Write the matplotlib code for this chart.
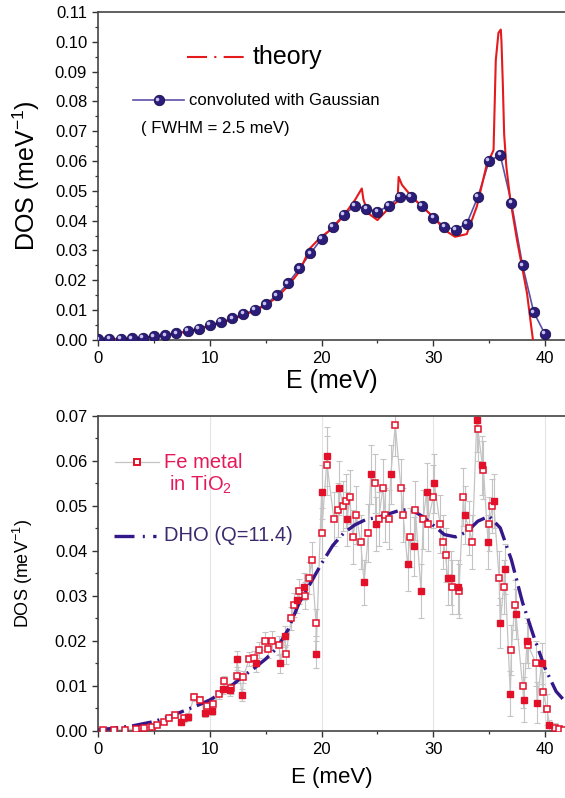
import numpy as np
import matplotlib
matplotlib.use("Agg")
import matplotlib.pyplot as plt
from matplotlib.ticker import MultipleLocator, FormatStrFormatter
from matplotlib.transforms import offset_copy

plt.rcParams['font.family'] = ['Liberation Sans', 'DejaVu Sans']
plt.rcParams['mathtext.default'] = 'regular'

# --- upper panel: calculated DOS ---
e_theory = [0, 2, 4, 6, 8, 10, 12, 14, 15, 16, 17, 18, 18.95, 19.9, 20.9, 21.9,
            23.0, 23.6, 23.75, 24.2, 25.0, 26.0, 26.8, 26.9, 27.2, 27.95, 28.85,
            30.0, 31.0, 31.95, 33.0, 33.9, 34.8, 35.2, 35.4, 35.6, 35.84, 36.05,
            36.11, 36.23, 36.35, 36.55, 36.9, 37.5, 37.95, 38.4, 38.7, 38.93, 39.1]
dos_theory = [0.0, 0.0002, 0.0008, 0.0016, 0.0028, 0.0047, 0.0069, 0.0098, 0.0117,
              0.0143, 0.0181, 0.0229, 0.0307, 0.0344, 0.0372, 0.0413, 0.0470,
              0.0508, 0.0470, 0.0424, 0.0402, 0.0441, 0.0465, 0.0547, 0.0520,
              0.0486, 0.0452, 0.0413, 0.0369, 0.0346, 0.0355, 0.0447, 0.0590,
              0.0620, 0.0637, 0.0938, 0.1030, 0.1041, 0.1000, 0.0860, 0.0690,
              0.0580, 0.0470, 0.0335, 0.0246, 0.0156, 0.0067, 0.0, -0.003]

e_conv = list(range(0, 41))
dos_conv = [0.0002, 0.0003, 0.0004, 0.0005, 0.0008, 0.0012, 0.0016, 0.0022, 0.0030,
            0.0038, 0.0050, 0.0060, 0.0072, 0.0087, 0.0100, 0.0120, 0.0150, 0.0190,
            0.0240, 0.0290, 0.0340, 0.0380, 0.0420, 0.0450, 0.0440, 0.0430, 0.0450,
            0.0480, 0.0480, 0.0450, 0.0410, 0.0380, 0.0370, 0.0390, 0.0480, 0.0600,
            0.0620, 0.0460, 0.0250, 0.0093, 0.0020]

# --- lower panel: measured DOS, Fe in TiO2 ---
e_open = [0.4, 1.4, 2.4, 3.4, 4.1, 4.8, 5.3, 5.9, 6.3, 6.9, 7.7, 8.6, 9.1, 9.7, 10.3,
          10.8, 11.3, 11.9, 12.4, 13.0, 13.5, 13.9, 14.4, 14.9, 15.2, 15.6, 16.2,
          16.8, 17.3, 17.5, 18.0, 18.5, 18.9, 19.1, 19.5, 20.0, 20.5, 21.1, 21.5,
          21.9, 22.2, 22.5, 22.8, 23.1, 23.5, 24.2, 24.8, 25.1, 25.5, 25.7, 26.0,
          26.6, 27.1, 27.3, 27.9, 28.4, 29.1, 29.5, 30.0, 30.6, 30.9, 31.1, 31.7,
          32.3, 32.7, 33.2, 33.5, 34.0, 34.5, 35.0, 35.3, 35.9, 36.3, 37.0, 37.3,
          38.0, 38.5, 39.2, 39.8, 40.2, 40.9, 41.3, 41.7]
dos_open = [0.0002, 0.0002, 0.0003, 0.0004, 0.0006, 0.0009, 0.0013, 0.0020, 0.0029,
            0.0036, 0.0028, 0.0076, 0.0068, 0.0055, 0.0060, 0.0081, 0.0110, 0.0095,
            0.0121, 0.0120, 0.0160, 0.0162, 0.0180, 0.0200, 0.0181, 0.0200, 0.0190,
            0.0170, 0.0250, 0.0280, 0.0310, 0.0300, 0.0340, 0.0380, 0.0240, 0.0440,
            0.0590, 0.0470, 0.0490, 0.0500, 0.0510, 0.0520, 0.0430, 0.0480, 0.0420,
            0.0440, 0.0550, 0.0470, 0.0540, 0.0480, 0.0470, 0.0680, 0.0540, 0.0480,
            0.0430, 0.0490, 0.0470, 0.0460, 0.0520, 0.0460, 0.0420, 0.0390, 0.0320,
            0.0310, 0.0520, 0.0450, 0.0420, 0.0670, 0.0580, 0.0460, 0.0500, 0.0340,
            0.0320, 0.0180, 0.0280, 0.0100, 0.0190, 0.0150, 0.0087, 0.0048, 0.0007,
            0.0004, 0.0002]
err_open = [0.0002, 0.0002, 0.0003, 0.0003, 0.0004, 0.0004, 0.0005, 0.0005, 0.0006,
            0.0006, 0.0007, 0.0009, 0.0009, 0.0010, 0.0010, 0.0011, 0.0012, 0.0012,
            0.0014, 0.0014, 0.0016, 0.0016, 0.0018, 0.0020, 0.0020, 0.0021, 0.0022,
            0.0022, 0.0025, 0.0026, 0.0028, 0.0030, 0.0035, 0.0040, 0.0030, 0.0055,
            0.0065, 0.0060, 0.0060, 0.0055, 0.0060, 0.0060, 0.0060, 0.0065, 0.0060,
            0.0065, 0.0065, 0.0060, 0.0065, 0.0060, 0.0065, 0.0070, 0.0065, 0.0060,
            0.0065, 0.0065, 0.0065, 0.0060, 0.0070, 0.0065, 0.0060, 0.0060, 0.0060,
            0.0060, 0.0065, 0.0060, 0.0060, 0.0070, 0.0065, 0.0060, 0.0060, 0.0060,
            0.0060, 0.0055, 0.0055, 0.0050, 0.0050, 0.0050, 0.0045, 0.0035, 0.0010,
            0.0008, 0.0005]

e_fill = [7.4, 8.0, 9.6, 10.2, 11.2, 11.8, 12.4, 12.9, 14.1, 16.3, 16.7, 17.8, 18.4,
          19.5, 20.0, 20.5, 21.6, 22.3, 23.8, 24.4, 24.9, 26.2, 27.7, 28.3, 28.9,
          29.4, 30.1, 31.3, 31.6, 32.2, 32.8, 33.9, 34.4, 34.9, 35.4, 36.0, 36.4,
          36.9, 37.4, 38.1, 38.4, 39.3, 39.7, 40.4]
dos_fill = [0.0020, 0.0031, 0.0041, 0.0045, 0.0093, 0.0090, 0.0160, 0.0080, 0.0150,
            0.0150, 0.0210, 0.0290, 0.0320, 0.0170, 0.0530, 0.0610, 0.0540, 0.0470,
            0.0330, 0.0570, 0.0460, 0.0570, 0.0370, 0.0410, 0.0310, 0.0530, 0.0550,
            0.0340, 0.0340, 0.0320, 0.0480, 0.0690, 0.0590, 0.0420, 0.0510, 0.0240,
            0.0360, 0.0083, 0.0260, 0.0069, 0.0200, 0.0063, 0.0150, 0.0013]
err_fill = [0.0007, 0.0008, 0.0010, 0.0010, 0.0012, 0.0012, 0.0018, 0.0014, 0.0018,
            0.0022, 0.0024, 0.0027, 0.0030, 0.0030, 0.0060, 0.0065, 0.0060, 0.0060,
            0.0050, 0.0065, 0.0060, 0.0065, 0.0060, 0.0065, 0.0060, 0.0065, 0.0065,
            0.0060, 0.0060, 0.0060, 0.0065, 0.0070, 0.0065, 0.0060, 0.0060, 0.0055,
            0.0055, 0.0050, 0.0055, 0.0050, 0.0050, 0.0045, 0.0045, 0.0012]

e_dho = list(range(0, 43))
dos_dho = [0.0003, 0.0005, 0.0008, 0.0011, 0.0016, 0.0021, 0.0029, 0.0038, 0.0048,
           0.0058, 0.0069, 0.0084, 0.0102, 0.0122, 0.0140, 0.0160, 0.0184, 0.0225,
           0.0285, 0.0328, 0.0372, 0.0412, 0.0440, 0.0458, 0.0470, 0.0474, 0.0482,
           0.0490, 0.0492, 0.0477, 0.0457, 0.0436, 0.0431, 0.0442, 0.0466, 0.0477,
           0.0451, 0.0380, 0.0285, 0.0210, 0.0140, 0.0088, 0.0060]

RED = '#e41a1c'
BALL = '#2a1c78'
CONV = '#5b50a8'
SQ = '#e3102a'
GREY = '#c4c4c4'
DHO = '#34178a'
XMAX = 41.8


def style_axes(ax, ymax, ystep):
    ax.set_xlim(0, XMAX)
    ax.set_ylim(0, ymax)
    ax.xaxis.set_major_locator(MultipleLocator(10))
    ax.xaxis.set_minor_locator(MultipleLocator(5))
    ax.yaxis.set_major_locator(MultipleLocator(ystep))
    ax.yaxis.set_minor_locator(MultipleLocator(ystep / 2))
    ax.yaxis.set_major_formatter(FormatStrFormatter('%.2f'))
    ax.tick_params(which='major', direction='out', length=4.5, width=1.0,
                   labelsize=12, color='#333333')
    ax.tick_params(which='minor', direction='out', length=2.5, width=0.9,
                   color='#333333')
    ax.spines['right'].set_visible(False)
    for s in ('left', 'bottom', 'top'):
        ax.spines[s].set_color('#444444')
        ax.spines[s].set_linewidth(1.2)


def ball(ax, x, y, transform=None, **kw):
    # dark sphere with a small light spot up-left
    tr = transform if transform is not None else ax.transData
    ax.plot(x, y, 'o', ms=7.5, mfc=BALL, mec='#1a1050', mew=0.6,
            transform=tr, zorder=5, **kw)
    hl = offset_copy(tr, fig=ax.figure, x=-1.2, y=1.2, units='points')
    ax.plot(x, y, 'o', ms=2.6, mfc='#c8c2ee', mec='none', transform=hl,
            zorder=6, **kw)


fig = plt.figure(figsize=(5.65, 7.98), dpi=100)

# upper panel
ax1 = fig.add_axes([0.174, 0.574, 0.826, 0.411])
style_axes(ax1, 0.11, 0.01)
ax1.plot(e_conv, dos_conv, '-', color=CONV, lw=1.2, zorder=3)
ax1.plot(e_theory, dos_theory, '-', color=RED, lw=1.5, zorder=4)
ball(ax1, e_conv, dos_conv)
ax1.set_xlabel('E (meV)', fontsize=18, labelpad=2)
ax1.set_ylabel('DOS (meV$^{-1}$)', fontsize=18)
ax1.yaxis.set_label_coords(-0.121, 0.5)

t = ax1.transAxes
ax1.plot([0.191, 0.318], [0.863, 0.863], color=RED, lw=1.5,
         dashes=(9.6, 3.5, 1, 3.5), transform=t)
ax1.text(0.33, 0.863, 'theory', fontsize=18, va='center', ha='left', transform=t)
ax1.plot([0.075, 0.183], [0.731, 0.731], '-', color=CONV, lw=1.2, transform=t)
ball(ax1, [0.129], [0.731], transform=t)
ax1.text(0.194, 0.731, 'convoluted with Gaussian', fontsize=12, va='center',
         ha='left', transform=t)
ax1.text(0.091, 0.645, '( FWHM = 2.5 meV)', fontsize=12, va='center', ha='left',
         transform=t)

# lower panel
ax2 = fig.add_axes([0.174, 0.084, 0.826, 0.395])
style_axes(ax2, 0.07, 0.01)
ax2.grid(axis='x', which='major', color='#e4e4e4', lw=0.8)
ax2.set_axisbelow(True)

e_all = np.concatenate([e_open, e_fill])
dos_all = np.concatenate([dos_open, dos_fill])
err_all = np.concatenate([err_open, err_fill])
order = np.argsort(e_all)
ax2.errorbar(e_all[order], dos_all[order], yerr=err_all[order], fmt='-',
             color=GREY, lw=0.9, elinewidth=0.8, capsize=2.2, capthick=0.8,
             zorder=2)
ax2.plot(e_dho, dos_dho, color=DHO, lw=2.4, dashes=(6, 1.8, 0.6, 1.8), zorder=3)
ax2.plot(e_open, dos_open, 's', ms=4.6, mfc='white', mec=SQ, mew=1.1, zorder=4)
ax2.plot(e_fill, dos_fill, 's', ms=4.6, mfc=SQ, mec=SQ, mew=1.0, zorder=4)
ax2.set_xlabel('E (meV)', fontsize=16, labelpad=7)
ax2.set_ylabel('DOS (meV$^{-1}$)', fontsize=13)
ax2.yaxis.set_label_coords(-0.135, 0.5)

t2 = ax2.transAxes
ax2.plot([0.035, 0.129], [0.853, 0.853], '-', color=GREY, lw=0.9, transform=t2)
ax2.plot([0.083], [0.853], 's', ms=4.6, mfc='white', mec=SQ, mew=1.4, transform=t2)
ax2.text(0.141, 0.853, 'Fe metal', fontsize=14.5, color='#e5195a', va='center',
         ha='left', transform=t2)
ax2.text(0.152, 0.78, 'in TiO$_2$', fontsize=14.5, color='#e5195a', va='center',
         ha='left', transform=t2)
ax2.plot([0.033, 0.124], [0.619, 0.619], color=DHO, lw=2.4,
         dashes=(6, 2.5, 0.6, 2.5), transform=t2)
ax2.text(0.141, 0.619, 'DHO (Q=11.4)', fontsize=14.5, color='#3b2a6e',
         va='center', ha='left', transform=t2)

fig.savefig('out.png', dpi=100)
